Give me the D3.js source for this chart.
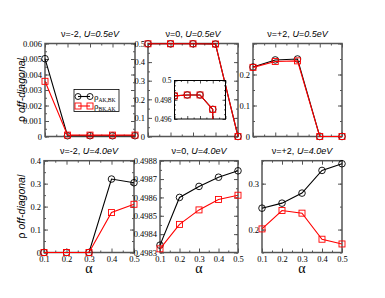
<!DOCTYPE html>
<html><head><meta charset="utf-8">
<script src="https://cdn.jsdelivr.net/npm/d3@7"></script>
<style>body{margin:0;background:#fff}svg{display:block}</style>
</head><body>
<svg id="c" width="385" height="298"></svg>
<script>
// ---- data ----
const alpha = [0.1, 0.2, 0.3, 0.4, 0.5];
const titleNu = ["\u03bd=-2, ", "\u03bd=0, ", "\u03bd=+2, ", "\u03bd=-2, ", "\u03bd=0, ", "\u03bd=+2, "];
const titleU = ["U=0.5eV", "U=0.5eV", "U=0.5eV", "U=4.0eV", "U=4.0eV", "U=4.0eV"];
const akbk_m2_U05 = [0.00502, 0.00005, 0.00005, 0.00005, 0.00005];
const bkak_m2_U05 = [0.00356, 0.00009, 0.00009, 0.00009, 0.00009];
const akbk_0_U05 = [0.4984, 0.4985, 0.4985, 0.4970, 0.0];
const bkak_0_U05 = [0.4984, 0.4985, 0.4985, 0.4970, 0.0];
const akbk_p2_U05 = [0.224, 0.247, 0.250, 0.0, 0.0];
const bkak_p2_U05 = [0.223, 0.242, 0.244, 0.0, 0.0];
const akbk_m2_U4 = [0.0, 0.0, 0.0, 0.320, 0.304];
const bkak_m2_U4 = [0.0, 0.0, 0.0, 0.174, 0.210];
const akbk_0_U4 = [0.49834, 0.49860, 0.49866, 0.49871, 0.498745];
const bkak_0_U4 = [0.49832, 0.498453, 0.498532, 0.498589, 0.498612];
const akbk_p2_U4 = [0.2466, 0.2575, 0.2794, 0.3288, 0.3434];
const bkak_p2_U4 = [0.2014, 0.2414, 0.2357, 0.1789, 0.1686];
const xTicks = [0.1, 0.2, 0.3, 0.4, 0.5];
const xMinor = [0.15, 0.25, 0.35, 0.45];
const yTicks1 = [0, 0.001, 0.002, 0.003, 0.004, 0.005, 0.006];
const yTicks2 = [0, 0.1, 0.2, 0.3, 0.4, 0.5];
const yTicks3 = [0, 0.1, 0.2];
const yTicks4 = [0, 0.1, 0.2, 0.3, 0.4];
const yTicks5 = [0.4983, 0.4984, 0.4985, 0.4986, 0.4987, 0.4988];
const yTicks6 = [0.2, 0.3];
const insetTicks = [0.496, 0.498, 0.5];
const legendLabels = [["\u03c1", "AK,BK"], ["\u03c1", "BK,AK"]];

// ---- layout ----
const svg = d3.select("#c");
const FRAME = "#555";
const panels = [
  {x0:45, x1:135, y0:43.5, y1:136.5, dom:[0,0.006], ticks:yTicks1, fmt:d=>d===0?"0":d3.format(".3f")(d), step:0.0005, a:akbk_m2_U05, b:bkak_m2_U05, xl:false},
  {x0:148, x1:238, y0:43.5, y1:136.5, dom:[0,0.5], ticks:yTicks2, fmt:d=>d===0?"0":d3.format(".1f")(d), step:0.05, a:akbk_0_U05, b:bkak_0_U05, xl:false},
  {x0:253, x1:342, y0:43.5, y1:136.5, dom:[0,0.3], ticks:yTicks3, fmt:d=>d===0?"0":d3.format(".1f")(d), step:0.05, a:akbk_p2_U05, b:bkak_p2_U05, xl:false},
  {x0:44, x1:134, y0:160.7, y1:252.5, dom:[0,0.4], ticks:yTicks4, fmt:d=>d===0?"0":d3.format(".1f")(d), step:0.05, a:akbk_m2_U4, b:bkak_m2_U4, xl:true},
  {x0:160, x1:238, y0:160.7, y1:252.5, dom:[0.4983,0.4988], ticks:yTicks5, fmt:d3.format(".4f"), step:0.00005, a:akbk_0_U4, b:bkak_0_U4, xl:true},
  {x0:262, x1:342, y0:160.7, y1:252.5, dom:[0.15,0.35], ticks:yTicks6, fmt:d3.format(".1f"), step:0.05, a:akbk_p2_U4, b:bkak_p2_U4, xl:true}
];

function minorTicks(dom, step) {
  const out = [];
  const n = Math.round((dom[1]-dom[0])/step);
  for (let i = 0; i <= n; i++) out.push(dom[0] + i*step);
  return out;
}

function styleAxis(g, fs) {
  g.select(".domain").remove();
  g.selectAll(".tick line").attr("stroke", FRAME).attr("stroke-width", 1);
  g.selectAll(".tick text").attr("font-family", "Liberation Serif, Times New Roman, serif").attr("font-size", fs).attr("fill", "#000");
}

function drawAxes(g, x, y, p, xt, xm, yt, ym, yfmt, showX, major, minor, fs) {
  const W = p.x1 - p.x0, H = p.y1 - p.y0;
  const bm = g.append("g").attr("transform", `translate(0,${p.y1})`).call(d3.axisBottom(x).tickValues(xm).tickSize(-minor).tickFormat(""));
  styleAxis(bm, fs);
  const b = g.append("g").attr("transform", `translate(0,${p.y1})`).call(d3.axisBottom(x).tickValues(xt).tickSize(-major).tickPadding(3).tickFormat(showX ? d3.format(".1f") : ""));
  styleAxis(b, fs);
  const tm = g.append("g").attr("transform", `translate(0,${p.y0})`).call(d3.axisTop(x).tickValues(xm).tickSize(-minor).tickFormat(""));
  styleAxis(tm, fs);
  const t = g.append("g").attr("transform", `translate(0,${p.y0})`).call(d3.axisTop(x).tickValues(xt).tickSize(-major).tickFormat(""));
  styleAxis(t, fs);
  const lm = g.append("g").attr("transform", `translate(${p.x0},0)`).call(d3.axisLeft(y).tickValues(ym).tickSize(-minor).tickFormat(""));
  styleAxis(lm, fs);
  const l = g.append("g").attr("transform", `translate(${p.x0},0)`).call(d3.axisLeft(y).tickValues(yt).tickSize(-major).tickPadding(3).tickFormat(yfmt));
  styleAxis(l, fs);
  const rm = g.append("g").attr("transform", `translate(${p.x1},0)`).call(d3.axisRight(y).tickValues(ym).tickSize(-minor).tickFormat(""));
  styleAxis(rm, fs);
  const r = g.append("g").attr("transform", `translate(${p.x1},0)`).call(d3.axisRight(y).tickValues(yt).tickSize(-major).tickFormat(""));
  styleAxis(r, fs);
  g.append("rect").attr("class","frame").attr("x", p.x0).attr("y", p.y0).attr("width", W).attr("height", H)
    .attr("fill", "none").attr("stroke", FRAME).attr("stroke-width", 1.5);
}

function drawSeries(g, x, y, a, b, rc, sq) {
  const line = d3.line().x((d,i)=>x(alpha[i])).y(d=>y(d));
  g.append("path").datum(a).attr("d", line).attr("fill","none").attr("stroke","#000").attr("stroke-width",1.1);
  g.selectAll(null).data(a).enter().append("circle").attr("cx",(d,i)=>x(alpha[i])).attr("cy",d=>y(d)).attr("r",rc)
    .attr("fill","none").attr("stroke","#000").attr("stroke-width",0.9);
  g.append("path").datum(b).attr("d", line).attr("fill","none").attr("stroke","#f00").attr("stroke-width",1.1);
  g.selectAll(null).data(b).enter().append("rect").attr("x",(d,i)=>x(alpha[i])-sq/2).attr("y",d=>y(d)-sq/2)
    .attr("width",sq).attr("height",sq).attr("fill","none").attr("stroke","#f00").attr("stroke-width",0.9);
}

panels.forEach((p, k) => {
  const g = svg.append("g");
  const x = d3.scaleLinear().domain([0.1, 0.5]).range([p.x0, p.x1]);
  const y = d3.scaleLinear().domain(p.dom).range([p.y1, p.y0]);
  const ym = minorTicks(p.dom, p.step);
  const yt = p.ticks.concat(k === 2 ? [0.3] : []);
  drawAxes(g, x, y, p, xTicks, xMinor, yt, ym, d => p.ticks.some(t => Math.abs(t-d) < 1e-9) ? p.fmt(d) : "", p.xl, 4, 2, 8.5);
  drawSeries(g, x, y, p.a, p.b, 3.3, 6);
  const tt = g.append("text").attr("x", (p.x0+p.x1)/2).attr("y", p.y0 - 7).attr("text-anchor","middle")
    .attr("font-family","Liberation Sans, Arial, sans-serif").attr("font-size", 9);
  tt.append("tspan").text(titleNu[k]);
  tt.append("tspan").attr("font-style","italic").text(titleU[k]);
  if (p.xl) {
    g.append("text").attr("x", (p.x0+p.x1)/2).attr("y", 273).attr("text-anchor","middle")
      .attr("font-family","Liberation Serif, Times New Roman, serif").attr("font-size", 14).text("\u03b1");
  }
  if (k === 0 || k === 3) {
    const cy = (p.y0 + p.y1)/2;
    const yl = g.append("text").attr("transform", `translate(25,${cy}) rotate(-90)`).attr("text-anchor","middle")
      .attr("font-family","Liberation Sans, Arial, sans-serif").attr("font-size", 10.5);
    yl.append("tspan").text("\u03c1 ");
    yl.append("tspan").attr("font-style","italic").text("off-diagonal");
  }
  if (k === 0) {
    const lg = g.append("g");
    lg.append("rect").attr("x", 74).attr("y", 89.5).attr("width", 45).attr("height", 22)
      .attr("fill","#fff").attr("stroke","#000").attr("stroke-width",0.8);
    legendLabels.forEach((lab, i) => {
      const ly = 96.5 + i*9.5;
      const col = i === 0 ? "#000" : "#f00";
      lg.append("line").attr("x1", 78).attr("x2", 90).attr("y1", ly).attr("y2", ly).attr("stroke", col).attr("stroke-width", 1.1);
      [78, 90].forEach(cx => {
        if (i === 0) lg.append("circle").attr("cx", cx).attr("cy", ly).attr("r", 3).attr("fill","none").attr("stroke",col).attr("stroke-width",0.9);
        else lg.append("rect").attr("x", cx-3).attr("y", ly-3).attr("width",6).attr("height",6).attr("fill","none").attr("stroke",col).attr("stroke-width",0.9);
      });
      const t = lg.append("text").attr("x", 94).attr("y", ly + 3).attr("font-family","Liberation Serif, Times New Roman, serif").attr("font-size", 9);
      t.append("tspan").text(lab[0]);
      t.append("tspan").attr("font-size", 5.5).attr("dy", 2).text(lab[1]);
    });
  }
  if (k === 1) {
    const ip = {x0:174.5, x1:225.5, y0:80.5, y1:119};
    const gi = svg.append("g");
    gi.append("rect").attr("x", ip.x0).attr("y", ip.y0).attr("width", ip.x1-ip.x0).attr("height", ip.y1-ip.y0).attr("fill","#fff");
    const xi = d3.scaleLinear().domain([0.1, 0.5]).range([ip.x0, ip.x1]);
    const yi = d3.scaleLinear().domain([0.496, 0.5]).range([ip.y1, ip.y0]);
    const clipId = "insclip";
    gi.append("clipPath").attr("id", clipId).append("rect").attr("x", ip.x0).attr("y", ip.y0 - 4).attr("width", ip.x1-ip.x0).attr("height", ip.y1-ip.y0+4);
    drawAxes(gi, xi, yi, ip, xTicks, xMinor, insetTicks, minorTicks([0.496,0.5],0.0005),
      d => d === 0.5 ? "0.5" : d3.format(".3f")(d), false, 3, 1.5, 7.5);
    gi.select("rect.frame").attr("stroke","#000").attr("stroke-width",1);
    const gs = gi.append("g").attr("clip-path", `url(#${clipId})`);
    drawSeries(gs, xi, yi, p.a, p.b, 3.3, 6);
  }
});
</script>
</body></html>
